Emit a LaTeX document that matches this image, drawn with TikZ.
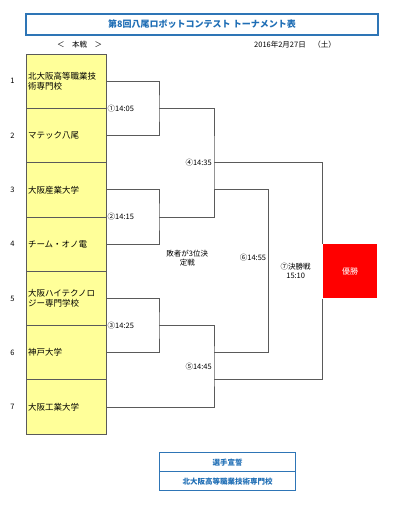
\documentclass[tikz,border=0pt]{standalone}
\usepackage{fontspec}
\setmainfont{Noto Sans CJK JP}
\usetikzlibrary{positioning,calc}
\definecolor{lineg}{HTML}{5A5A5A}
\definecolor{teamy}{HTML}{FFFF99}
\definecolor{titleb}{HTML}{2E75B6}
\definecolor{titlet}{HTML}{1F6EB5}
\tikzset{
  team/.style={rectangle,draw=lineg,fill=teamy,line width=0.9pt,minimum width=80pt,
               minimum height=54.3pt,text width=76pt,align=left,inner sep=2pt,
               font=\fontsize{8.5}{10}\selectfont},
  seed/.style={font=\fontsize{7.5}{9}\selectfont},
  bracket/.style={draw=lineg,line width=0.9pt},
  match/.style={font=\fontsize{7.5}{9.5}\selectfont,inner sep=1pt},
  titlebox/.style={rectangle,draw=titleb,line width=1.2pt,minimum width=352pt,
                   minimum height=21pt,text=titlet,font=\bfseries\fontsize{9}{11}\selectfont},
  champ/.style={rectangle,fill=red,minimum width=54.6pt,minimum height=54.3pt,
                text=white,font=\fontsize{8}{10}\selectfont},
  oath/.style={rectangle,draw=titleb,line width=1pt,minimum width=136.4pt,
               minimum height=19pt,text=titlet,font=\bfseries\fontsize{7.5}{9}\selectfont},
}
\begin{document}
\begin{tikzpicture}[x=1pt,y=-1pt]
  \useasboundingbox (0,0) rectangle (400,505);
  % --- 見出し ---
  \node[titlebox] (title) at (202,24.5) {第8回八尾ロボットコンテスト トーナメント表};
  \node[seed] (round) at (79.5,44.5) {＜　本戦　＞};
  \node[seed] (date)  at (295,44.5) {2016年2月27日　（土）};
  % --- 出場校 ---
  \node[team] (t1) at (66, 81.2) {北大阪高等職業技\\術専門校};
  \node[team] (t2) at (66,135.5) {マテック八尾};
  \node[team] (t3) at (66,189.8) {大阪産業大学};
  \node[team] (t4) at (66,244.1) {チーム・オノ電};
  \node[team] (t5) at (66,298.4) {大阪ハイテクノロ\\ジー専門学校};
  \node[team] (t6) at (66,352.7) {神戸大学};
  \node[team] (t7) at (66,407.0) {大阪工業大学};
  \node[seed] (s1) at (12.5, 81.2) {1};
  \node[seed] (s2) at (12.5,135.5) {2};
  \node[seed] (s3) at (12.5,189.8) {3};
  \node[seed] (s4) at (12.5,244.1) {4};
  \node[seed] (s5) at (12.5,298.4) {5};
  \node[seed] (s6) at (12.5,352.7) {6};
  \node[seed] (s7) at (12.5,407.0) {7};
  % --- 試合の分岐点 ---
  \coordinate (m1) at (159,108.35);
  \coordinate (m2) at (159,216.95);
  \coordinate (m3) at (159,325.55);
  \coordinate (m4) at (214,162.65);
  \coordinate (l4) at (214,189.8);
  \coordinate (m5) at (214,366.3);
  \coordinate (w5) at (214,379.3);
  \coordinate (l5) at (214,352.3);
  \coordinate (m6) at (268.3,271);
  \node[champ] (champ) at (350,271.2) {優勝};
  % --- 連線 ---
  \draw[bracket] (t1.east) -| (m1) |- (t2.east);
  \draw[bracket] (t3.east) -| (m2) |- (t4.east);
  \draw[bracket] (t5.east) -| (m3) |- (t6.east);
  \draw[bracket] (m1) -| (m4) |- (m2);
  \draw[bracket] (m3) -| (m5) |- (t7.east);
  \draw[bracket] (m4) -| (champ.north west);
  \draw[bracket] (w5) -| (champ.south west);
  \draw[bracket] (l4) -| (m6) |- (l5);
  % --- 試合ラベル ---
  \node[match,anchor=west] (g1) at (106.5,108.35) {①14:05};
  \node[match,anchor=west] (g2) at (106.5,216.95) {②14:15};
  \node[match,anchor=west] (g3) at (106.5,325.55) {③14:25};
  \node[match,anchor=east] (g4) at (213,162.65) {④14:35};
  \node[match,anchor=east] (g5) at (213,366.3) {⑤14:45};
  \node[match,anchor=east] (g6) at (267.3,257.7) {⑥14:55};
  \node[match,align=center] (g7) at (295.7,271) {⑦決勝戦\\15:10};
  \node[match,align=center] (third) at (187.3,258) {敗者が3位決\\定戦};
  % --- 選手宣誓 ---
  \node[oath] (oath)   at (227.5,462.2) {選手宣誓};
  \node[oath] (oathby) at (227.5,481.2) {北大阪高等職業技術専門校};
\end{tikzpicture}
\end{document}
